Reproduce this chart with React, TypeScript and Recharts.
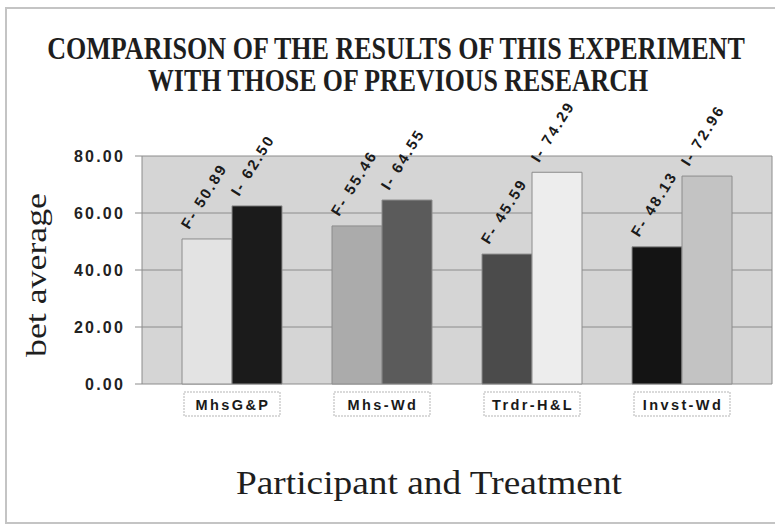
import React from 'react';
import { BarChart, Bar, XAxis, YAxis, CartesianGrid, Cell, LabelList } from 'recharts';

const categories = ['MhsG&P', 'Mhs-Wd', 'Trdr-H&L', 'Invst-Wd'];
const fValues = [50.89, 55.46, 45.59, 48.13];
const iValues = [62.5, 64.55, 74.29, 72.96];
const fColors = ['#e3e3e3', '#ababab', '#4b4b4b', '#141414'];
const iColors = ['#1b1b1b', '#5b5b5b', '#ededed', '#c3c3c3'];
const yTicks = [0, 20, 40, 60, 80];
const titleLines = ['COMPARISON OF THE RESULTS OF THIS EXPERIMENT', 'WITH THOSE OF PREVIOUS RESEARCH'];
const yLabel = 'bet average';
const xLabel = 'Participant and Treatment';

const data = categories.map((c, i) => ({ name: c, F: fValues[i], I: iValues[i] }));

const makeLabel = (prefix: string) => (props: any) => {
  const { x, y, value } = props;
  const x0 = Number(x) + 7;
  const y0 = Number(y) - 9;
  return (
    <text
      x={x0}
      y={y0}
      transform={`rotate(-58, ${x0}, ${y0})`}
      fontFamily="'Liberation Sans', Arial, sans-serif"
      fontWeight="bold"
      fontSize={15}
      letterSpacing={2.2}
      fill="#1a1a1a"
    >
      {`${prefix}- ${Number(value).toFixed(2)}`}
    </text>
  );
};

const CatTick = (props: any) => {
  const { x, y, payload } = props;
  return (
    <g>
      <rect x={x - 48} y={y} width={96} height={24} fill="#ffffff" stroke="#b5b5b5" strokeDasharray="2 1" />
      <text
        x={x + 1}
        y={y + 17.5}
        textAnchor="middle"
        fontFamily="'Liberation Sans', Arial, sans-serif"
        fontWeight="bold"
        fontSize={14.5}
        letterSpacing={2.4}
        fill="#1a1a1a"
      >
        {payload.value}
      </text>
    </g>
  );
};

export default function App() {
  return (
    <div style={{ position: 'absolute', left: 0, top: 0, width: 775, height: 526, background: '#ffffff' }}>
      <BarChart
        width={775}
        height={526}
        data={data}
        margin={{ top: 156, right: 3, bottom: 0, left: 0 }}
        barCategoryGap="16.67%"
        barGap={0}
      >
        <CartesianGrid
          fill="#d5d5d5"
          stroke="#8c8c8c"
          verticalCoordinatesGenerator={(p: any) => [p.offset.left, p.offset.left + p.offset.width]}
        />
        <XAxis
          dataKey="name"
          height={142}
          padding={{ left: 15, right: 15 }}
          axisLine={false}
          tickLine={false}
          tickSize={0}
          tickMargin={8}
          tick={<CatTick />}
          interval={0}
        />
        <YAxis
          width={142}
          domain={[0, 80]}
          ticks={yTicks}
          tickFormatter={(v: number) => v.toFixed(2)}
          axisLine={false}
          tickSize={7}
          tickMargin={10}
          tickLine={{ stroke: '#8c8c8c' }}
          tick={{ fontFamily: "'Liberation Sans', Arial, sans-serif", fontWeight: 'bold', fontSize: 16, fill: '#222', letterSpacing: 2.2 }}
        />
        <Bar dataKey="F" isAnimationActive={false} stroke="#8c8c8c" strokeWidth={1}>
          {data.map((d, i) => (
            <Cell key={`f${i}`} fill={fColors[i]} />
          ))}
          <LabelList dataKey="F" content={makeLabel('F')} />
        </Bar>
        <Bar dataKey="I" isAnimationActive={false} stroke="#8c8c8c" strokeWidth={1}>
          {data.map((d, i) => (
            <Cell key={`i${i}`} fill={iColors[i]} />
          ))}
          <LabelList dataKey="I" content={makeLabel('I')} />
        </Bar>
      </BarChart>
      <svg width={775} height={526} style={{ position: 'absolute', left: 0, top: 0, pointerEvents: 'none' }}>
        <rect x={6} y={8} width={800} height={515} fill="none" stroke="#c4c4c4" strokeWidth={2} />
        <g transform="translate(396, 59) scale(0.8, 1)">
          <text
            x={0}
            y={0}
            textAnchor="middle"
            textLength={872}
            lengthAdjust="spacingAndGlyphs"
            fontFamily="'Liberation Serif', 'DejaVu Serif', serif"
            fontWeight="bold"
            fontSize={31}
            fill="#1e1e1e"
          >
            {titleLines[0]}
          </text>
        </g>
        <g transform="translate(398, 91) scale(0.8, 1)">
          <text
            x={0}
            y={0}
            textAnchor="middle"
            textLength={625}
            lengthAdjust="spacingAndGlyphs"
            fontFamily="'Liberation Serif', 'DejaVu Serif', serif"
            fontWeight="bold"
            fontSize={31}
            fill="#1e1e1e"
          >
            {titleLines[1]}
          </text>
        </g>
        <text
          x={0}
          y={0}
          transform="translate(46, 275) rotate(-90)"
          textAnchor="middle"
          textLength={164}
          lengthAdjust="spacingAndGlyphs"
          fontFamily="'Liberation Serif', 'DejaVu Serif', serif"
          fontSize={30}
          fill="#1e1e1e"
        >
          {yLabel}
        </text>
        <text
          x={429}
          y={494}
          textAnchor="middle"
          textLength={386}
          lengthAdjust="spacingAndGlyphs"
          fontFamily="'Liberation Serif', 'DejaVu Serif', serif"
          fontSize={33}
          fill="#1e1e1e"
        >
          {xLabel}
        </text>
      </svg>
    </div>
  );
}
